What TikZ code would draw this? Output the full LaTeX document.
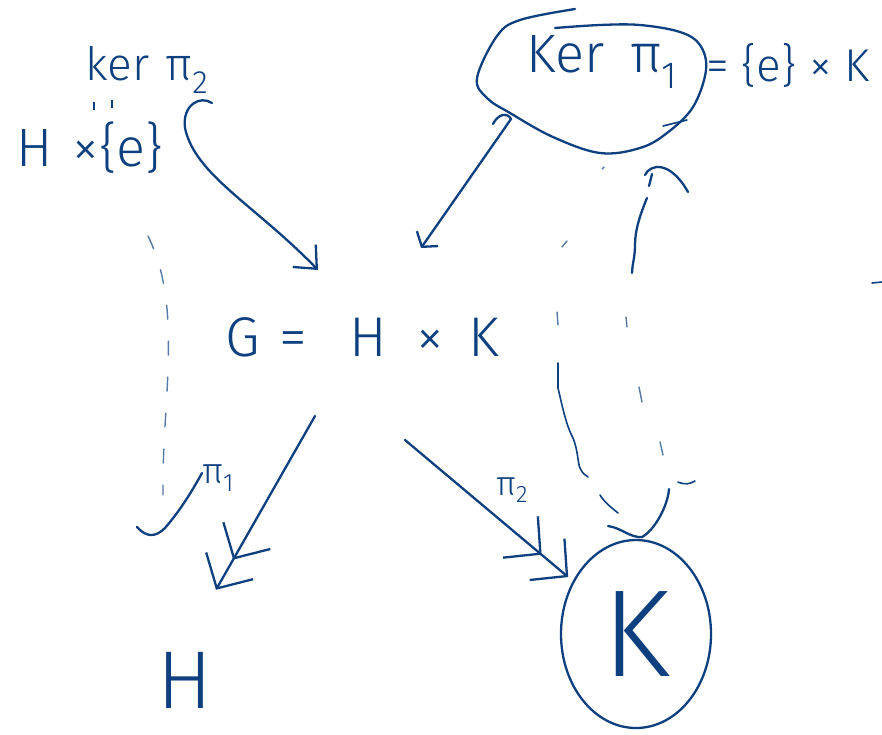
\documentclass[tikz,border=0pt]{standalone}
\usepackage{fontspec}
\setmainfont{Fira Sans}[UprightFont=* Light]
\usetikzlibrary{arrows.meta,shapes.geometric}
\definecolor{ink}{RGB}{14,64,128}
\newcommand\handsize[1]{\fontsize{#1}{#1}\selectfont}
\tikzset{
  pen/.style={draw=ink, line width=2.3pt, line cap=round, line join=round},
  thinpen/.style={draw=ink, line width=1.6pt, line cap=round, line join=round},
  faintpen/.style={draw=ink!70, line width=1.4pt, line cap=round},
  txt/.style={text=ink, inner sep=0pt},
  smalltip/.tip={Straight Barb[length=10pt,width=26pt]},
  hooktip/.tip={Straight Barb[length=18pt,width=32pt]},
  bigtip/.tip={Straight Barb[length=26pt,width=54pt,sep=6pt]},
}
\begin{document}
\begin{tikzpicture}[x=1pt,y=-1pt]
\fill[white] (0,0) rectangle (882,734);
\useasboundingbox (0,0) rectangle (882,734);

% labels
\node[txt, font=\handsize{46}] (kertwo) at (147,70) {ker\hspace{16pt}π\textsubscript{2}};
% vertical equality sign between the two descriptions of the kernel
\node[txt] (eqv) at (103,105) {\rule{1.8pt}{8pt}\hspace{16pt}\raisebox{2pt}{\rule{1.8pt}{8pt}}};
\node[txt, font=\handsize{54}] (hxe) at (90,148) {H\hspace{20pt}×\{e\}};
\node[txt, font=\handsize{56}] (G) at (362,337) {G\hspace{20pt}=\hspace{42pt}H\hspace{30pt}×\hspace{24pt}K};
\node[txt, font=\handsize{54}] (kerone) at (602,62) {Ker\hspace{26pt}π\textsubscript{1}};
\node[txt, font=\handsize{46}, anchor=west] (prod) at (706,65) {= \{e\} × K};
\node[txt, font=\handsize{36}] (pone) at (218,478) {π\textsubscript{1}};
\node[txt, font=\handsize{34}] (ptwo) at (512,490) {π\textsubscript{2}};
\node[txt, font=\handsize{82}] (H) at (185,680) {H};
\node[pen, ellipse, minimum width=150pt, minimum height=188pt, inner sep=0pt,
      text=ink, font=\handsize{124}] (K) at (636,634) {\raisebox{-14pt}{K}};

% loop round the kernel of pi_1
\draw[pen] plot[smooth, tension=0.6] coordinates {(575,9) (520,20) (497,36) (477,78)
  (487,98) (510,113) (553,137) (600,153) (640,148) (667,133) (693,107) (706,70)
  (700,45) (680,32) (640,25) (600,25) (555,28)};
\draw[thinpen] (663,126) -- (687,120);

% inclusion H x {e} -> G
\coordinate (hookL) at (212,103);
\coordinate (tipL) at (318,270);
\draw[pen, -{hooktip}] (hookL) .. controls (200,95) and (182,105) .. (185,128)
  .. controls (195,175) and (255,205) .. (tipL);

% inclusion {e} x K -> G
\coordinate (hookR) at (493,124);
\coordinate (tipR) at (421,248);
\draw[pen, -{smalltip}] (hookR) .. controls (498,114) and (507,112) .. (511,119) -- (tipR);

% projections
\coordinate (p1s) at (315,416);
\coordinate (p1t) at (213,595);
\draw[pen, -{bigtip[]bigtip[]}] (p1s) -- (p1t);
\coordinate (p2s) at (405,440);
\draw[pen, -{bigtip[]bigtip[]}] (p2s) -- (K);

% dashed identification on the left
\draw[faintpen, dash pattern=on 14pt off 22pt] (148,236) .. controls (172,285) and (170,340) .. (166,410)
  .. controls (163,455) and (163,475) .. (163,495);
\draw[pen] (137,527) .. controls (146,537) and (155,538) .. (165,528)
  .. controls (178,513) and (190,495) .. (202,473);

% dashed identification on the right
\draw[pen] (645,175) .. controls (650,164) and (670,160) .. (688,192);
\draw[pen] (652,174) -- (649,186);
\draw[pen] (647,198) .. controls (640,215) and (635,230) .. (635,245)
  .. controls (635,258) and (632,265) .. (632,273);
\draw[faintpen] (626,317) -- (627,327);
\draw[faintpen] (639,387) -- (642,402);
\draw[faintpen] (660,442) -- (663,455);
\draw[thinpen] (678,482) .. controls (685,485) and (690,484) .. (695,481);
\draw[pen] (669,489) .. controls (668,505) and (655,530) .. (642,537)
  .. controls (630,538) and (622,528) .. (608,526);
\draw[faintpen] (602,169) -- (604,167);
\draw[faintpen] (562,247) -- (567,241);
\draw[faintpen] (557,312) -- (558,325);
\draw[thinpen] (558,363) -- (558,388) .. controls (562,405) and (566,425) .. (573,438)
  .. controls (578,450) and (578,465) .. (580,468) .. controls (582,473) and (585,475) .. (588,477);
\draw[thinpen] (600,495) .. controls (605,503) and (612,508) .. (618,513);
\draw[thinpen] (872,283) -- (882,282);
\end{tikzpicture}
\end{document}
